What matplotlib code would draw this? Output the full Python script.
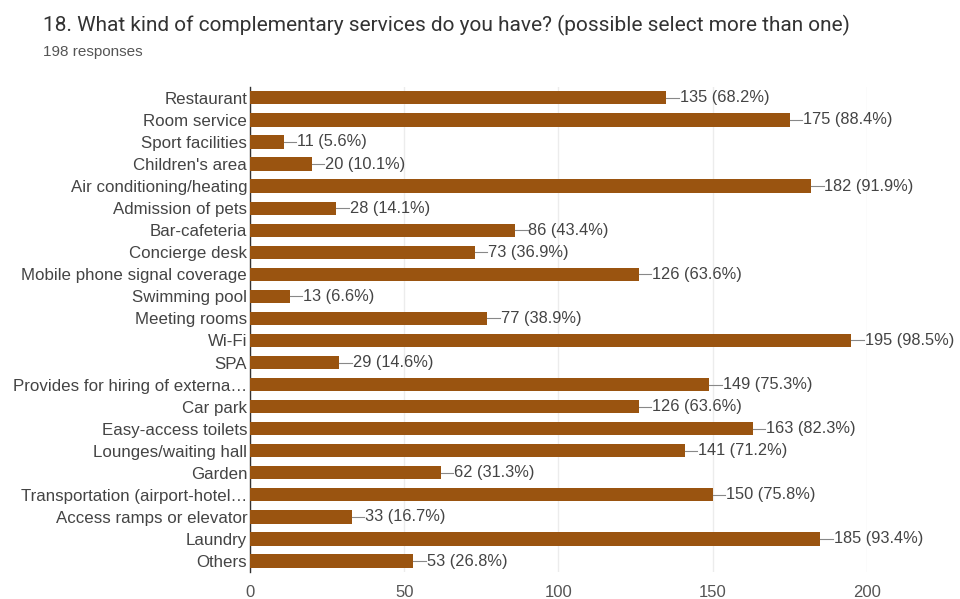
import matplotlib.pyplot as plt

plt.rcParams['font.family'] = ['Liberation Sans', 'DejaVu Sans']

categories = [
    "Restaurant", "Room service", "Sport facilities", "Children's area",
    "Air conditioning/heating", "Admission of pets", "Bar-cafeteria",
    "Concierge desk", "Mobile phone signal coverage", "Swimming pool",
    "Meeting rooms", "Wi-Fi", "SPA", "Provides for hiring of externa…",
    "Car park", "Easy-access toilets", "Lounges/waiting hall", "Garden",
    "Transportation (airport-hotel…", "Access ramps or elevator",
    "Laundry", "Others",
]
counts = [135, 175, 11, 20, 182, 28, 86, 73, 126, 13, 77, 195, 29, 149,
          126, 163, 141, 62, 150, 33, 185, 53]
percents = [68.2, 88.4, 5.6, 10.1, 91.9, 14.1, 43.4, 36.9, 63.6, 6.6, 38.9,
            98.5, 14.6, 75.3, 63.6, 82.3, 71.2, 31.3, 75.8, 16.7, 93.4, 26.8]
x_ticks = [0, 50, 100, 150, 200]
n_responses = 198

bar_color = "#9a5410"
text_color = "#444444"

fig = plt.figure(figsize=(9.6, 5.99), dpi=100)
ax = fig.add_axes([0.2604, 0.045, 0.6424, 0.81])

y = list(range(len(categories)))
ax.barh(y, counts, height=0.6, color=bar_color, zorder=3)

for yi, c, p in zip(y, counts, percents):
    # short leader line, then the count and share
    ax.plot([c, c + 4], [yi, yi], color="#888888", lw=0.8, zorder=3)
    ax.text(c + 4.3, yi, f"{c} ({p}%)", va="center", ha="left",
            fontsize=11.8, color=text_color)

ax.set_ylim(len(categories) - 0.5, -0.5)
ax.set_xlim(0, 200)
ax.set_yticks(y)
ax.set_yticklabels(categories, fontsize=12.2, color=text_color)
ax.set_xticks(x_ticks)
ax.set_xticklabels([str(t) for t in x_ticks], fontsize=12, color="#555555")
ax.tick_params(axis="both", length=0, pad=2)
ax.tick_params(axis="x", pad=9)
ax.grid(axis="x", color="#ececec", lw=1, zorder=0)
for side in ["top", "right", "bottom"]:
    ax.spines[side].set_visible(False)
ax.spines["left"].set_color("#333333")
ax.spines["left"].set_linewidth(1)

fig.text(0.045, 0.958, "18. What kind of complementary services do you have? "
         "(possible select more than one)", fontsize=15, color="#333333",
         va="center", ha="left", family=["Roboto", "DejaVu Sans"])
fig.text(0.045, 0.913, f"{n_responses} responses", fontsize=11,
         color="#555555", va="center", ha="left")

fig.savefig("out.png", dpi=100)
